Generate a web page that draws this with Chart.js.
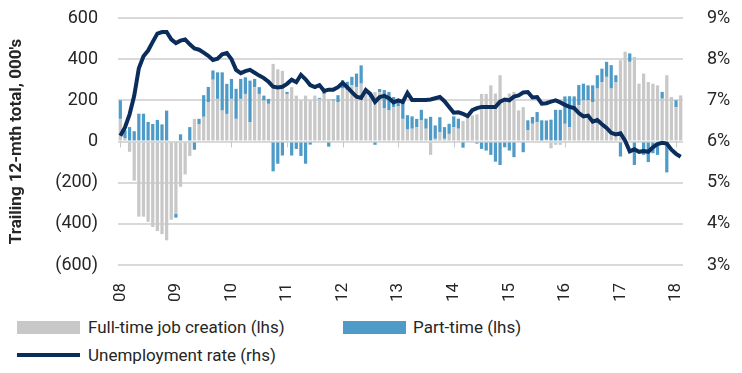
<!DOCTYPE html>
<html>
<head>
<meta charset="utf-8">
<script src="https://cdn.jsdelivr.net/npm/chart.js@4.4.0/dist/chart.umd.min.js"></script>
<style>
  body { margin: 0; background: #fff; font-family: Roboto, "Liberation Sans", sans-serif; color: #262626; }
  #wrap { position: relative; width: 742px; height: 373px; }
  #box { position: absolute; left: 0; top: 0; width: 742px; height: 310px; }
  .leg { position: absolute; font-size: 17px; line-height: 20px; white-space: nowrap; }
  .sw { position: absolute; width: 63px; }
</style>
</head>
<body>
<div id="wrap">
  <div id="box"><canvas id="grafico"></canvas></div>
  <div class="sw" style="left:17px; top:321px; height:13px; background:#c8c8c8"></div>
  <div class="leg" style="left:88px; top:317px">Full-time job creation (lhs)</div>
  <div class="sw" style="left:343px; top:321px; height:13px; background:#4f9bc8"></div>
  <div class="leg" style="left:413px; top:317px">Part-time (lhs)</div>
  <div class="sw" style="left:17px; top:353px; height:4px; background:#0b2d5b"></div>
  <div class="leg" style="left:88px; top:345px">Unemployment rate (rhs)</div>
</div>
<script>
// years shown on the x axis, monthly data Jan 2008 - Feb 2018
const years = ['08', '09', '10', '11', '12', '13', '14', '15', '16', '17', '18']

// full-time job creation, trailing 12-mth total, 000's
const fullTime = [
  110, 15, -50, -190, -365, -365, -390, -415, -435, -450, -480, -380,
  -350, -220, -160, -70, 110, 85, 120, 190, 300, 207, 150, 134,
  207, 110, 207, 231, 94, 264, 231, 199, 183, 377, 351, 343,
  231, 264, 223, 199, 223, 200, 223, 207, 231, 207, 199, 192,
  257, 249, 273, 265, 281, 255, 215, 240, 239, 160, 151, 167,
  170, 110, 58, 62, 70, 102, 62, -65, 13, 45, 13, 37,
  70, 62, 100, 119, 127, 132, 231, 231, 273, 233, 322, 200,
  233, 241, 151, 167, 54, 86, 94, 5, 8, -33, -16, -16,
  86, 70, 151, 176, 200, 200, 192, 257, 289, 314, 257, 289,
  395, 436, 387, 411, 281, 330, 289, 281, 273, 208, 322, 216,
  167, 224
]

// part-time, trailing 12-mth total, 000's
const partTime = [
  90, 40, 70, 50, 135, 135, 95, 85, 105, 83, 150, 5,
  -20, 35, 5, 70, -40, 25, 105, 75, 45, 129, 186, 146,
  97, 146, 97, 81, 202, 40, 33, 24, 24, -145, -108, -68,
  10, -68, -36, -70, -108, -15, 0, 5, 16, -25, 5, 33,
  41, 41, 41, 65, 89, 0, 10, -16, 16, 90, 90, 49,
  30, 80, 70, 60, 40, 52, 49, 120, 65, 73, 57, 49,
  52, 49, -30, 0, 0, -10, -36, -44, -65, -98, -114, -28,
  -44, -76, 0, -52, 49, 33, 49, 98, 94, 106, 154, 154,
  133, 150, 68, 98, 81, 73, 81, 65, 65, 73, 114, 33,
  -73, 0, 41, -114, 0, -65, -100, -57, -65, 33, -150, 0,
  33, 0
]

// unemployment rate, %
const unemployment = [
  6.14, 6.34, 6.66, 7.11, 7.78, 8.07, 8.21, 8.42, 8.62, 8.66, 8.66, 8.48,
  8.39, 8.45, 8.48, 8.36, 8.26, 8.23, 8.16, 8.08, 7.98, 8.01, 8.12, 8.15,
  8.0, 7.74, 7.66, 7.71, 7.74, 7.67, 7.6, 7.54, 7.45, 7.33, 7.31, 7.33,
  7.40, 7.50, 7.44, 7.62, 7.51, 7.37, 7.32, 7.37, 7.23, 7.26, 7.26, 7.32,
  7.42, 7.32, 7.20, 7.09, 7.06, 7.25, 7.15, 6.96, 7.08, 7.11, 7.05, 6.95,
  7.0, 6.96, 7.18, 7.01, 7.01, 7.01, 7.01, 7.02, 7.05, 7.08, 6.98, 6.84,
  6.70, 6.71, 6.67, 6.62, 6.76, 6.81, 6.84, 6.84, 6.84, 6.84, 6.97, 7.02,
  7.0, 7.09, 7.12, 7.19, 7.20, 7.07, 7.08, 6.92, 6.93, 6.97, 7.0, 6.95,
  6.89, 6.84, 6.81, 6.69, 6.61, 6.63, 6.48, 6.52, 6.42, 6.33, 6.21, 6.17,
  6.20, 6.02, 5.76, 5.81, 5.75, 5.77, 5.75, 5.86, 5.94, 5.97, 5.95, 5.80,
  5.70, 5.63
]

let labels = []
for (let i = 0; i < fullTime.length; i++) {
  let y = years[Math.floor(i / 12)]
  labels.push(i % 12 == 0 ? y : '')
}

const txt = '#262626'
const fam = 'Roboto, "Liberation Sans", sans-serif'
const clear = 'rgba(0,0,0,0)'

function negParens(v) {
  return v < 0 ? '(' + Math.abs(v) + ')' : '' + v
}

// small year tick marks hanging under the zero line
const yearTicks = {
  id: 'yearTicks',
  beforeDatasetsDraw: function (chart) {
    let ctx = chart.ctx
    let x = chart.scales.x
    let y0 = chart.scales.y.getPixelForValue(0)
    ctx.save()
    ctx.strokeStyle = '#c8c8c8'
    ctx.lineWidth = 1
    for (let i = 0; i < labels.length; i += 12) {
      let px = Math.round(x.getPixelForValue(i)) + 0.5
      ctx.beginPath()
      ctx.moveTo(px, y0)
      ctx.lineTo(px, y0 + 6)
      ctx.stroke()
    }
    ctx.restore()
  }
}

let canvas = document.getElementById('grafico').getContext('2d')
let chart = new Chart(canvas, {
  type: 'bar',
  data: {
    labels: labels,
    datasets: [
      {
        type: 'line',
        label: 'Unemployment rate (rhs)',
        data: unemployment,
        yAxisID: 'y2',
        borderColor: '#0b2d5b',
        borderWidth: 4,
        pointRadius: 0,
        tension: 0,
        order: 0
      },
      {
        label: 'Full-time job creation (lhs)',
        data: fullTime,
        backgroundColor: '#c8c8c8',
        barPercentage: 0.7,
        categoryPercentage: 1,
        order: 1
      },
      {
        label: 'Part-time (lhs)',
        data: partTime,
        backgroundColor: '#4f9bc8',
        barPercentage: 0.7,
        categoryPercentage: 1,
        order: 2
      }
    ]
  },
  plugins: [yearTicks],
  options: {
    responsive: true,
    maintainAspectRatio: false,
    animation: false,
    layout: { padding: { top: 18, left: 0, right: 0, bottom: 0 } },
    plugins: {
      legend: { display: false },
      tooltip: { enabled: false }
    },
    scales: {
      x: {
        stacked: true,
        grid: { display: false },
        border: { display: false },
        ticks: {
          autoSkip: false,
          minRotation: 90,
          maxRotation: 90,
          padding: 10,
          color: txt,
          font: { family: fam, size: 17 }
        },
        afterFit: function (s) { s.height = 45 }
      },
      y: {
        stacked: true,
        min: -600,
        max: 600,
        border: { display: false },
        grid: { color: '#d9d9d9', lineWidth: 2, tickColor: clear, tickLength: 17 },
        ticks: {
          stepSize: 200,
          padding: 3,
          color: txt,
          font: { family: fam, size: 18 },
          callback: negParens
        },
        title: {
          display: true,
          text: "Trailing 12-mth total, 000's",
          color: txt,
          font: { family: fam, size: 17, weight: 'bold' },
          padding: { top: 7, bottom: 0 }
        },
        afterFit: function (s) { s.width = 118 }
      },
      y2: {
        position: 'right',
        min: 3,
        max: 9,
        border: { display: false },
        grid: { drawOnChartArea: false, tickColor: clear, tickLength: 21 },
        ticks: {
          stepSize: 1,
          padding: 3,
          color: txt,
          font: { family: fam, size: 18 },
          callback: function (v) { return v + '%' }
        },
        afterFit: function (s) { s.width = 59 }
      }
    }
  }
})
</script>
</body>
</html>
